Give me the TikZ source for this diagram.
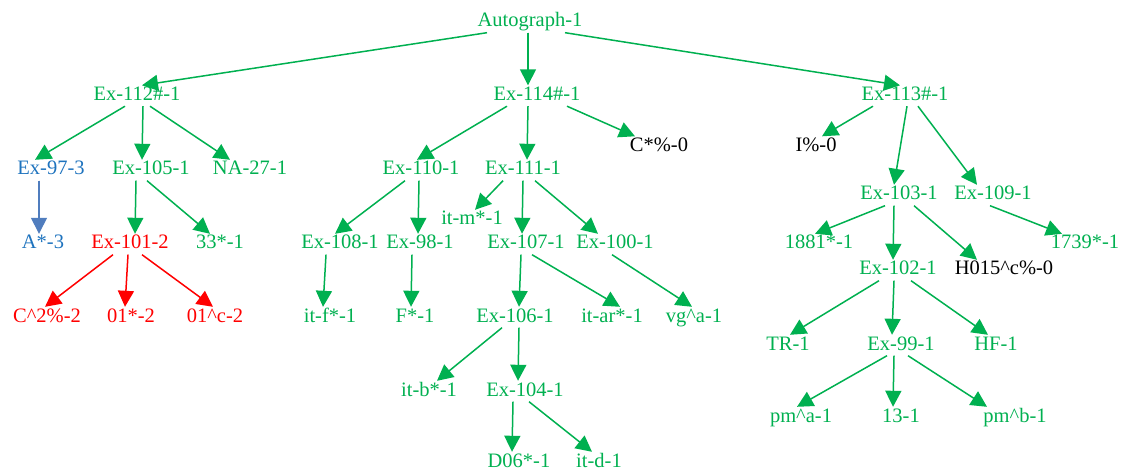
\documentclass[tikz,border=0pt]{standalone}
\usepackage{fontspec}
\setmainfont{Liberation Serif}
\usetikzlibrary{arrows.meta}

\definecolor{grn}{RGB}{0,176,80}
\definecolor{blu}{RGB}{30,115,190}
\definecolor{bluline}{RGB}{80,125,190}
\definecolor{rd}{RGB}{255,0,0}

\tikzset{
  lbl/.style={anchor=base, inner sep=1pt, text height=14pt, text depth=4.5pt,
              font=\fontsize{20.5}{24}\selectfont, text=grn},
  arr/.style={line width=1.5pt, -{Triangle[length=16pt,width=16pt]}},
}

\begin{document}
\begin{tikzpicture}[x=1pt,y=-1pt]
\useasboundingbox (0,0) rectangle (1121,470);

% ======================= root and first rank =======================
\node[lbl] (auto)  at (530,27)    {Autograph-1};
\node[lbl] (ex112) at (137,100.5) {Ex-112\#-1};
\node[lbl] (ex114) at (537,100.5) {Ex-114\#-1};
\node[lbl] (ex113) at (905,100.5) {Ex-113\#-1};

% ======================= left branch: Ex-112 =======================
\node[lbl] (ex97)  at (51,175)   {\textcolor{blu}{Ex-97-3}};
\node[lbl] (ex105) at (151,175)  {Ex-105-1};
\node[lbl] (na27)  at (250,175)  {NA-27-1};
\node[lbl] (a3)    at (43,249)   {\textcolor{blu}{A*-3}};
\node[lbl] (ex101) at (130,249)  {\textcolor{rd}{Ex-101-2}};
\node[lbl] (n33)   at (220,249)  {33*-1};
\node[lbl] (c2)    at (47,322)   {\textcolor{rd}{C\textasciicircum 2\%-2}};
\node[lbl] (n01s)  at (131,322)  {\textcolor{rd}{01*-2}};
\node[lbl] (n01c)  at (215,322)  {\textcolor{rd}{01\textasciicircum c-2}};

% ======================= middle branch: Ex-114 =====================
\node[lbl] (cs0)   at (659,151.5) {\textcolor{black}{C*\%-0}};
\node[lbl] (ex110) at (421,175)   {Ex-110-1};
\node[lbl] (ex111) at (523,175)   {Ex-111-1};
\node[lbl] (itm)   at (472,225)   {it-m*-1};
\node[lbl] (ex108) at (340,249)   {Ex-108-1};
\node[lbl] (ex98)  at (420,249)   {Ex-98-1};
\node[lbl] (ex107) at (526,249)   {Ex-107-1};
\node[lbl] (ex100) at (615,249)   {Ex-100-1};
\node[lbl] (itf)   at (330,322)   {it-f*-1};
\node[lbl] (f1)    at (415,322)   {F*-1};
\node[lbl] (ex106) at (515,322)   {Ex-106-1};
\node[lbl] (itar)  at (612,322)   {it-ar*-1};
\node[lbl] (vga)   at (694,322)   {vg\textasciicircum a-1};
\node[lbl] (itb)   at (429,396)   {it-b*-1};
\node[lbl] (ex104) at (525,396)   {Ex-104-1};
\node[lbl] (d06)   at (519,467)   {D06*-1};
\node[lbl] (itd)   at (599,467)   {it-d-1};

% ======================= right branch: Ex-113 ======================
\node[lbl] (i0)    at (816,151.5) {\textcolor{black}{I\%-0}};
\node[lbl] (ex103) at (899,200)   {Ex-103-1};
\node[lbl] (ex109) at (993,200)   {Ex-109-1};
\node[lbl] (n1881) at (819,249)   {1881*-1};
\node[lbl] (n1739) at (1085,249)  {1739*-1};
\node[lbl] (ex102) at (898,275)   {Ex-102-1};
\node[lbl] (h015)  at (1004,275)  {\textcolor{black}{H015\textasciicircum c\%-0}};
\node[lbl] (tr)    at (788,350)   {TR-1};
\node[lbl] (ex99)  at (901,350)   {Ex-99-1};
\node[lbl] (hf)    at (996,350)   {HF-1};
\node[lbl] (pma)   at (801,422)   {pm\textasciicircum a-1};
\node[lbl] (n13)   at (901,422)   {13-1};
\node[lbl] (pmb)   at (1015,422)  {pm\textasciicircum b-1};

% ======================= edges: parent/child/start shift/end shift/colour
\foreach \a/\b/\s/\e/\c in {
    auto/ex112/-43/5/grn, auto/ex114/-2/-9/grn, auto/ex113/35/-5/grn,
    ex112/ex97/-12/-16/grn, ex112/ex105/6/-9/grn, ex112/na27/13/-20/grn,
    ex97/a3/-12/-4/bluline,
    ex105/ex101/-15/5/grn, ex105/n33/-4/-10/grn,
    ex101/c2/-17/-2/rd, ex101/n01s/-2/-6/rd, ex101/n01c/12/-2/rd,
    ex114/ex110/-30/-4/grn, ex114/ex111/-9/4/grn, ex114/cs0/30/-24/grn,
    ex110/ex108/-16/-5/grn, ex110/ex98/-2/-2/grn,
    ex111/itm/-20/3/grn, ex111/ex107/0/-4/grn, ex111/ex100/12/-17/grn,
    ex108/itf/-14/-7/grn, ex98/f1/-8/-4/grn,
    ex107/ex106/-5/4/grn, ex107/itar/6/8/grn, ex100/vga/-3/-2/grn,
    ex106/itb/-13/8/grn, ex106/ex104/4/-7/grn,
    ex104/d06/-12/-7/grn, ex104/itd/4/-7/grn,
    ex113/i0/-32/6/grn, ex113/ex103/2/-5/grn, ex113/ex109/13/-16/grn,
    ex103/n1881/-14/-4/grn, ex103/ex102/-5/-5/grn, ex103/h015/15/-27/grn,
    ex109/n1739/-3/-23/grn,
    ex102/tr/-19/2/grn, ex102/ex99/-4/-9/grn, ex102/hf/13/-8/grn,
    ex99/pma/-14/-4/grn, ex99/n13/-7/-8/grn, ex99/pmb/7/-28/grn}
  {\draw[arr,draw=\c,fill=\c] ([xshift=\s pt]\a.south) -- ([xshift=\e pt]\b.north);}

\end{tikzpicture}
\end{document}
